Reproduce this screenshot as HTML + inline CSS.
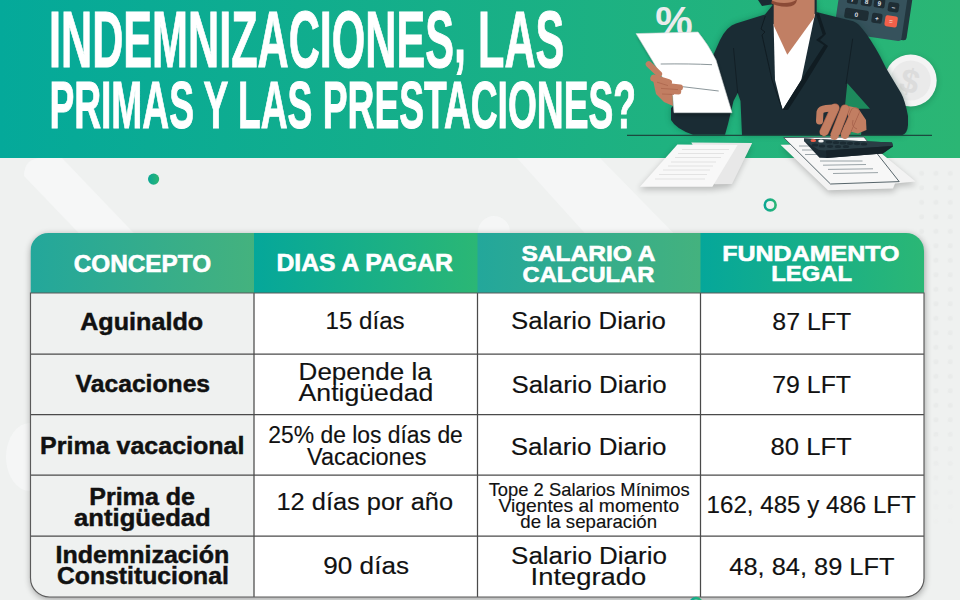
<!DOCTYPE html>
<html><head><meta charset="utf-8"><style>
html,body{margin:0;padding:0;background:#eff1f0;}
body{width:960px;height:600px;overflow:hidden;position:relative;}
svg{position:absolute;left:0;top:0;display:block;}
text{font-family:"Liberation Sans",Arial,sans-serif;}
</style></head><body>
<svg width="960" height="600" viewBox="0 0 960 600">
<defs>
<linearGradient id="ban" x1="0" y1="0" x2="1" y2="0"><stop offset="0" stop-color="#04a99a"/><stop offset="1" stop-color="#2bb674"/></linearGradient>
<linearGradient id="dotg" x1="0" y1="0" x2="1" y2="0"><stop offset="0" stop-color="#0aa794"/><stop offset="1" stop-color="#2bb674"/></linearGradient>
<linearGradient id="gA0" gradientUnits="userSpaceOnUse" x1="30.5" y1="0" x2="254.0" y2="0"><stop offset="0" stop-color="#23a79b"/><stop offset="1" stop-color="#44b27e"/></linearGradient>
<linearGradient id="gB1" gradientUnits="userSpaceOnUse" x1="254.0" y1="0" x2="477.5" y2="0"><stop offset="0" stop-color="#05a79a"/><stop offset="1" stop-color="#2bb775"/></linearGradient>
<linearGradient id="gA2" gradientUnits="userSpaceOnUse" x1="477.5" y1="0" x2="700.5" y2="0"><stop offset="0" stop-color="#23a79b"/><stop offset="1" stop-color="#44b27e"/></linearGradient>
<linearGradient id="gB3" gradientUnits="userSpaceOnUse" x1="700.5" y1="0" x2="924.0" y2="0"><stop offset="0" stop-color="#05a79a"/><stop offset="1" stop-color="#2bb775"/></linearGradient>

<filter id="tsh" x="-5%" y="-5%" width="110%" height="115%"><feGaussianBlur stdDeviation="3.5"/></filter>
<filter id="soft" x="-20%" y="-20%" width="140%" height="140%"><feGaussianBlur stdDeviation="3"/></filter>
<filter id="soft2" x="-20%" y="-20%" width="140%" height="140%"><feGaussianBlur stdDeviation="1.5"/></filter>
<clipPath id="hclip"><path d="M30.5,293.0 L30.5,251.0 A18,18 0 0 1 48.5,233.0 L906.0,233.0 A18,18 0 0 1 924.0,251.0 L924.0,293.0 Z"/></clipPath>
<clipPath id="banclip"><rect x="0" y="0" width="960" height="158"/></clipPath>
<pattern id="dotpat" x="914.5" y="166" width="14.3" height="14.5" patternUnits="userSpaceOnUse"><circle cx="7.2" cy="7.3" r="2.5" fill="#e9ebea"/></pattern>
<linearGradient id="dotfade" gradientUnits="userSpaceOnUse" x1="0" y1="166" x2="0" y2="600"><stop offset="0" stop-color="#fff"/><stop offset="0.6" stop-color="#fff"/><stop offset="0.85" stop-color="#fff" stop-opacity="0"/></linearGradient>
<mask id="dotmask" maskUnits="userSpaceOnUse" x="900" y="160" width="60" height="440"><rect x="900" y="160" width="60" height="440" fill="url(#dotfade)"/></mask>
</defs>
<!-- background -->
<rect x="0" y="0" width="960" height="600" fill="#eff1f0"/>
<g fill="#f6f7f7">
<path d="M24,176 Q24,158 42,158 L62,158 L150,250 L95,250 Z" opacity="0.9"/>
<path d="M517,158 L600,158 L690,250 L600,250 Z" opacity="0.8"/>
<circle cx="494" cy="232" r="16" opacity="0.8"/>
<ellipse cx="30" cy="457" rx="24" ry="34" opacity="0.8"/>
</g>
<rect x="914" y="166" width="46" height="434" fill="url(#dotpat)" mask="url(#dotmask)"/>
<!-- banner -->
<rect x="0" y="0" width="960" height="158" fill="url(#ban)"/>
<!-- illustration -->
<g clip-path="url(#banclip)">
<!-- percent sign -->
<text x="655.3" y="36" font-size="42" font-weight="700" fill="#ebebeb" font-family="Liberation Sans, Arial, sans-serif" textLength="37.5" lengthAdjust="spacingAndGlyphs">%</text>
<!-- top calculator -->
<g transform="translate(901,41.5) rotate(8.5)">
<rect x="-3" y="-100" width="8" height="98.5" rx="3" fill="#22363e"/>
<rect x="-68" y="-100" width="68" height="100" rx="3" fill="#36525c"/>
<rect x="-60" y="-54" width="11" height="9" rx="2" fill="#1e2d34"/>
<rect x="-46" y="-54" width="11" height="9" rx="2" fill="#1e2d34"/>
<rect x="-33" y="-54" width="11" height="9" rx="2" fill="#1e2d34"/>
<rect x="-19" y="-53" width="11" height="9" rx="2" fill="#1e2d34"/>
<rect x="-59.5" y="-39.5" width="11" height="9.5" rx="2" fill="#1e2d34"/>
<rect x="-45.5" y="-39.5" width="11" height="9.5" rx="2" fill="#1e2d34"/>
<rect x="-32.5" y="-39.5" width="11" height="9.5" rx="2" fill="#1e2d34"/>
<rect x="-18" y="-37.5" width="11" height="9.5" rx="2" fill="#1e2d34"/>
<rect x="-60" y="-25.5" width="24" height="10.5" rx="2" fill="#1e2d34"/>
<rect x="-32.5" y="-24.5" width="10.5" height="10" rx="2" fill="#1e2d34"/>
<rect x="-19" y="-24" width="12.5" height="11" rx="2" fill="#f2604a"/>
<g font-family="Liberation Sans, Arial, sans-serif" font-size="6.5" font-weight="700" fill="#d9dfe1" text-anchor="middle">
<text x="-54" y="-32">7</text><text x="-40" y="-32">8</text><text x="-27" y="-32">9</text><text x="-12.5" y="-30">−</text>
<text x="-48" y="-17.5">0</text><text x="-27.2" y="-17">+</text><text x="-12.8" y="-16.2" fill="#f7c2b6">=</text>
</g>
</g>
<!-- coin -->
<circle cx="911" cy="82" r="26" fill="#000" opacity="0.18" filter="url(#soft)"/>
<circle cx="910.7" cy="80.5" r="26" fill="#f4f4f4"/>
<circle cx="910.7" cy="80.5" r="20" fill="#eaeaea"/>
<text x="910" y="93" font-size="34" font-weight="700" fill="#dcdcdc" text-anchor="middle" font-family="Liberation Sans, Arial, sans-serif" transform="rotate(15 910 80)">$</text>
<!-- suit shadow -->
<path d="M772.7,5 L765,14.5 L736,23.5 Q727,26 720,40 L712,58 L690,90 L671,108 L671,120 Q676,129 693,134.8 L725,134.8 L728,124 L733.5,101 L737.7,93 L740.5,101 L742,135.3 L902,135.3 Q907.5,133.5 908,125 L908,116 Q905,100 901,93 L886,68 L880,56 Q870,38 862.7,29.3 Q858,23 853.3,21.3 L821.3,13.3 L816.7,12 L816.7,0 L760,0 Z" fill="#0b3a2c" opacity="0.35" filter="url(#soft)"/>
<!-- suit -->
<path fill-rule="evenodd" d="M772.7,5 L765,14.5 L736,23.5 Q727,26 720,40 L712,58 L690,90 L671,108 L671,120 Q676,129 693,134.8 L725,134.8 L728,124 L733.5,101 L737.7,93 L740.5,101 L742,135.3 L902,135.3 Q907.5,133.5 908,125 L908,116 Q905,100 901,93 L886,68 L880,56 Q870,38 862.7,29.3 Q858,23 853.3,21.3 L821.3,13.3 L816.7,12 L816.7,0 L760,0 Z M847.3,83.3 L870,108.7 L844.7,108.7 Z M846,126 L862,126 L861,135.3 L846,135.3 Z" fill="#1a2c34"/>
<!-- shirt -->
<path d="M773.6,24 L815,14 L801.3,80 L782.5,110 L775,80 Z" fill="#ffffff"/>
<!-- lapel shading -->
<path d="M816,14 L822.7,34.7 L816,40 L824,45.3 L801.3,80 L782.5,110 L788,110 L806,82 L828,46 L820,40 L826,34 L819,13 Z" fill="#101c22"/>
<path d="M765.3,16 L761,29 L765,32 L762,35 L772,80 L782.5,110" fill="none" stroke="#101c22" stroke-width="1"/>
<path d="M733.5,48 L737.7,93" fill="none" stroke="#101c22" stroke-width="0.8"/>
<path d="M852.7,38.7 L846,84" fill="none" stroke="#101c22" stroke-width="0.8"/>
<!-- neck -->
<path d="M773.7,0 L773.7,25.5 L787.3,54.7 L814.6,17 L814.6,0 Z" fill="#c17f64"/>
<!-- chin -->
<path d="M769,0 L797,0 Q796,6.5 787,6.8 Q776,6.8 769,2 Z" fill="#8b4a36"/>
<path d="M771,0 L796,0 Q792,3 784,3 Q776,3 771,0 Z" fill="#c17f64"/>
<path d="M758,0 L772,0 L771,4.5 L762,6 Z" fill="#1b2a33"/>
<!-- left paper -->
<path d="M636,33.6 L698,32 Q708,44 716,60 L732,112.7 L674,112.7 L672.7,96 L660.5,74 Z" fill="#000" opacity="0.25" filter="url(#soft2)" transform="translate(1,3)"/>
<path d="M636,33.6 L698,32 Q708,44 716,60 L732,112.7 L674,112.7 L672.7,96 L660.5,74 Z" fill="#ffffff" stroke="#cfd3d4" stroke-width="0.6"/>
<path d="M660.7,64 Q690,63.6 712,64.7" stroke="#6d7b80" stroke-width="0.8" fill="none"/>
<path d="M682.7,86.7 L718.7,91" stroke="#6d7b80" stroke-width="0.8"/>
<!-- left hand -->
<path d="M653,80 L672,85 L673,106 L664,102 L656,94 Z" fill="#c27e62"/>
<g stroke="#c27e62" stroke-linecap="round" fill="none">
<path d="M648.8,64.2 L659,74" stroke-width="6.2"/>
<path d="M653.8,78.2 L668.5,82.6" stroke-width="7"/>
<path d="M658,85 L680,87.6" stroke-width="6"/>
<path d="M659,90.6 L678.5,91.8" stroke-width="5.5"/>
</g>
<g stroke="#a9634a" stroke-width="0.7" fill="none">
<path d="M657,82.2 L668,85.6"/><path d="M661,88.4 L678,89.6"/><path d="M662,94 L674,94.5"/>
</g>
<!-- right hand -->
<path d="M848,106 L858,108 L866,120 L866.5,130 L858,133.5 L848,131 Z" fill="#c27e62"/>
<g stroke-linecap="round" stroke-linejoin="round" fill="none">
<path d="M855,112 L845,135" stroke="#a5604a" stroke-width="9.2"/><path d="M855,112 L845,135" stroke="#c27e62" stroke-width="7.8"/>
<path d="M845,109 L834.5,136" stroke="#a5604a" stroke-width="9.2"/><path d="M845,109 L834.5,136" stroke="#c27e62" stroke-width="7.8"/>
<path d="M835,108 L824,132" stroke="#a5604a" stroke-width="9.2"/><path d="M835,108 L824,132" stroke="#c27e62" stroke-width="7.8"/>
<path d="M819.5,121 L820,112 Q821,109 826,108.5 L833,108" stroke="#c27e62" stroke-width="7"/>
</g>
<path d="M853,120 Q851,127 857,129" stroke="#a5604a" stroke-width="0.8" fill="none"/>
<!-- desk line -->
<path d="M627,135.3 L932,135.3" stroke="#1c4a3f" stroke-width="1.2"/>
</g>
<!-- desk items (overlap banner edge) -->
<!-- left papers -->
<path d="M677.4,144.5 L752.2,143 L732.1,183.9 L712.4,186.8 L639.9,186.8 Z" fill="#000" opacity="0.22" filter="url(#soft)" transform="translate(-1,3)"/>
<path d="M691.3,142.6 L752.2,143 L732.1,183.9 L714.6,184.3 Z" fill="#e8e8e8"/>
<path d="M677.4,144.5 L737.6,144.9 L712.4,186.8 L639.9,186.8 Z" fill="#f8f8f8"/>
<g stroke="#e0e0e0" stroke-width="0.9">
<path d="M682,149.5 L729,149.5"/><path d="M678,153.5 L724,153.5"/><path d="M675,157.5 L721,157.5"/><path d="M671,162 L716,162"/>
<path d="M668,166 L713,166"/><path d="M663,170 L710,170"/><path d="M659,174.5 L707,174.5"/><path d="M655,179 L705,179"/>
</g>
<!-- right papers -->
<path d="M780.5,144.8 L870,144 L915.6,181.6 L895,183.5 L893,188.6 L828,190.2 Z" fill="#000" opacity="0.22" filter="url(#soft)" transform="translate(1,3)"/>
<path d="M780.5,144.8 L870,144 L915.6,181.6 L895,183.5 L893,188.6 L828,190.2 Z" fill="#f3f3f3"/>
<path d="M783.6,137.5 L864,137 L899.2,181.6 L830.5,184 Z" fill="#f7f7f7" stroke="#44545a" stroke-width="0.9"/>
<g stroke="#8a9599" stroke-width="0.85">
<path d="M799,146 L812,146"/><path d="M802,150 L815,150"/><path d="M805,154.5 L818,154.5"/>
<path d="M820,161 L862.5,161"/><path d="M823,165.2 L866,164.5"/><path d="M828,169.4 L873,168.8"/><path d="M833,173.5 L878,172.6"/>
</g>
<!-- desk calculator -->
<path d="M804,138.6 L892,142.5 L893,146.4 L882.8,153.4 L826.6,158 L819.5,157.8 L804,141 Z" fill="#1b2a32"/>
<path d="M804,138.6 L892,142.5 L893,146 L826,150.5 L819,150 L804,141 Z" fill="#2a3d45"/>
<path d="M826,150.5 L893,146 L882.8,153.4 L826.6,158 Z" fill="#162229"/>
<g fill="#1b2a32">
<ellipse cx="829" cy="142" rx="3.2" ry="1.6"/><ellipse cx="836" cy="142.5" rx="3.2" ry="1.6"/><ellipse cx="843" cy="143" rx="3.2" ry="1.6"/><ellipse cx="850" cy="143.3" rx="3.2" ry="1.6"/><ellipse cx="857" cy="143.6" rx="3.2" ry="1.6"/><ellipse cx="864" cy="144" rx="3.2" ry="1.6"/>
<ellipse cx="815" cy="145" rx="3.2" ry="1.6"/><ellipse cx="822" cy="146" rx="3.2" ry="1.6"/><ellipse cx="830" cy="146.3" rx="3.2" ry="1.6"/><ellipse cx="838" cy="146.5" rx="3.2" ry="1.6"/><ellipse cx="846" cy="146.5" rx="3.2" ry="1.6"/>
</g>
<ellipse cx="813.3" cy="140.6" rx="2.8" ry="1.5" fill="#f2604a"/>
<ellipse cx="821" cy="141" rx="2.8" ry="1.5" fill="#f0f0f0"/>
<!-- right hand over calculator -->
<g stroke-linecap="round" fill="none" stroke="#c27e62" stroke-width="7.8">
<path d="M827,126 L824,132"/><path d="M837.5,128 L834.5,136"/><path d="M848,127 L845,135"/>
</g>

<!-- title -->
<g>
<text x="49.00" y="66.5" font-size="79.6" font-weight="700" fill="#fff" stroke="#fff" stroke-width="1.0" textLength="515.35" lengthAdjust="spacingAndGlyphs">INDEMNIZACIONES<tspan dy="-5">,</tspan><tspan dy="5"> </tspan>LAS</text>
<text x="49.40" y="127.9" font-size="67.2" font-weight="700" fill="#fff" stroke="#fff" stroke-width="1.0" textLength="586.59" lengthAdjust="spacingAndGlyphs">PRIMAS Y LAS PRESTACIONES?</text>
</g>
<!-- decorations -->
<circle cx="153.6" cy="179.1" r="5.6" fill="url(#dotg)"/>
<circle cx="770.2" cy="205" r="5.4" fill="none" stroke="url(#dotg)" stroke-width="2.6"/>
<!-- table shadow -->
<path d="M30.5,578.0 L30.5,251.0 A18,18 0 0 1 48.5,233.0 L906.0,233.0 A18,18 0 0 1 924.0,251.0 L924.0,578.0 A19,19 0 0 1 905.0,597.0 L49.5,597.0 A19,19 0 0 1 30.5,578.0 Z" fill="#000" opacity="0.36" filter="url(#tsh)" transform="translate(0.5,2)"/>
<!-- table -->
<g clip-path="url(#hclip)">
<rect x="30.5" y="233.0" width="224.0" height="60.0" fill="url(#gA0)"/>
<rect x="254.0" y="233.0" width="224.0" height="60.0" fill="url(#gB1)"/>
<rect x="477.5" y="233.0" width="223.5" height="60.0" fill="url(#gA2)"/>
<rect x="700.5" y="233.0" width="224.0" height="60.0" fill="url(#gB3)"/>

</g>
<path d="M30.5,293.0 L924.0,293.0 L924.0,578.0 A19,19 0 0 1 905.0,597.0 L49.5,597.0 A19,19 0 0 1 30.5,578.0 Z" fill="#fff"/>
<path d="M30.5,293.0 L254.0,293.0 L254.0,597.0 L49.5,597.0 A19,19 0 0 1 30.5,578.0 Z" fill="#eff1f0"/>
<g stroke="#4a4a4a" stroke-width="1.25">
<line x1="30.5" y1="354.0" x2="924.0" y2="354.0"/>
<line x1="30.5" y1="414.5" x2="924.0" y2="414.5"/>
<line x1="30.5" y1="475.2" x2="924.0" y2="475.2"/>
<line x1="30.5" y1="536.0" x2="924.0" y2="536.0"/>
<line x1="254.0" y1="293.0" x2="254.0" y2="597.0"/>
<line x1="477.5" y1="293.0" x2="477.5" y2="597.0"/>
<line x1="700.5" y1="293.0" x2="700.5" y2="597.0"/>

</g>
<path d="M30.5,293.0 L924.0,293.0 L924.0,578.0 A19,19 0 0 1 905.0,597.0 L49.5,597.0 A19,19 0 0 1 30.5,578.0 Z" fill="none" stroke="#5a5a5a" stroke-width="1.15"/>
<circle cx="696" cy="603.5" r="5.4" fill="none" stroke="url(#dotg)" stroke-width="2.6"/>
<g>
<text x="73.70" y="271.7" font-size="24" font-weight="700" fill="#fff" stroke="#fff" stroke-width="0.6" textLength="137.45" lengthAdjust="spacingAndGlyphs">CONCEPTO</text>
<text x="276.50" y="271.4" font-size="24" font-weight="700" fill="#fff" stroke="#fff" stroke-width="0.6" textLength="176.24" lengthAdjust="spacingAndGlyphs">DIAS A PAGAR</text>
<text x="521.50" y="260.7" font-size="22.6" font-weight="700" fill="#fff" stroke="#fff" stroke-width="0.6" textLength="133.96" lengthAdjust="spacingAndGlyphs">SALARIO A</text>
<text x="522.60" y="282" font-size="22.6" font-weight="700" fill="#fff" stroke="#fff" stroke-width="0.6" textLength="131.76" lengthAdjust="spacingAndGlyphs">CALCULAR</text>
<text x="722.20" y="260.6" font-size="22.6" font-weight="700" fill="#fff" stroke="#fff" stroke-width="0.6" textLength="177.35" lengthAdjust="spacingAndGlyphs">FUNDAMENTO</text>
<text x="771.20" y="281.2" font-size="22.6" font-weight="700" fill="#fff" stroke="#fff" stroke-width="0.6" textLength="80.78" lengthAdjust="spacingAndGlyphs">LEGAL</text>
<text x="80.20" y="329.5" font-size="23.3" font-weight="700" fill="#111" stroke="#111" stroke-width="0.45" textLength="122.93" lengthAdjust="spacingAndGlyphs">Aguinaldo</text>
<text x="325.60" y="329.3" font-size="23.3"  fill="#111" stroke="#111" stroke-width="0.15" textLength="79.03" lengthAdjust="spacingAndGlyphs">15 días</text>
<text x="511.10" y="329.4" font-size="23.3"  fill="#111" stroke="#111" stroke-width="0.15" textLength="154.77" lengthAdjust="spacingAndGlyphs">Salario Diario</text>
<text x="772.30" y="329.7" font-size="23.3"  fill="#111" stroke="#111" stroke-width="0.15" textLength="78.94" lengthAdjust="spacingAndGlyphs">87 LFT</text>
<text x="75.60" y="392.2" font-size="23.3" font-weight="700" fill="#111" stroke="#111" stroke-width="0.45" textLength="134.52" lengthAdjust="spacingAndGlyphs">Vacaciones</text>
<text x="298.60" y="380.1" font-size="23.3"  fill="#111" stroke="#111" stroke-width="0.15" textLength="133.07" lengthAdjust="spacingAndGlyphs">Depende la</text>
<text x="298.60" y="401.4" font-size="23.3"  fill="#111" stroke="#111" stroke-width="0.15" textLength="134.75" lengthAdjust="spacingAndGlyphs">Antigüedad</text>
<text x="511.40" y="392.5" font-size="23.3"  fill="#111" stroke="#111" stroke-width="0.15" textLength="155.25" lengthAdjust="spacingAndGlyphs">Salario Diario</text>
<text x="772.30" y="392.5" font-size="23.3"  fill="#111" stroke="#111" stroke-width="0.15" textLength="78.68" lengthAdjust="spacingAndGlyphs">79 LFT</text>
<text x="40.10" y="454" font-size="23.3" font-weight="700" fill="#111" stroke="#111" stroke-width="0.45" textLength="204.28" lengthAdjust="spacingAndGlyphs">Prima vacacional</text>
<text x="268.30" y="443" font-size="23.3"  fill="#111" stroke="#111" stroke-width="0.15" textLength="194.53" lengthAdjust="spacingAndGlyphs">25% de los días de</text>
<text x="307.00" y="465" font-size="23.3"  fill="#111" stroke="#111" stroke-width="0.15" textLength="119.41" lengthAdjust="spacingAndGlyphs">Vacaciones</text>
<text x="510.80" y="454.5" font-size="23.3"  fill="#111" stroke="#111" stroke-width="0.15" textLength="155.66" lengthAdjust="spacingAndGlyphs">Salario Diario</text>
<text x="770.60" y="454.5" font-size="23.3"  fill="#111" stroke="#111" stroke-width="0.15" textLength="81.17" lengthAdjust="spacingAndGlyphs">80 LFT</text>
<text x="89.20" y="505.2" font-size="23.3" font-weight="700" fill="#111" stroke="#111" stroke-width="0.45" textLength="105.85" lengthAdjust="spacingAndGlyphs">Prima de</text>
<text x="74.10" y="526" font-size="23.3" font-weight="700" fill="#111" stroke="#111" stroke-width="0.45" textLength="136.65" lengthAdjust="spacingAndGlyphs">antigüedad</text>
<text x="276.50" y="509.8" font-size="23.3"  fill="#111" stroke="#111" stroke-width="0.15" textLength="176.52" lengthAdjust="spacingAndGlyphs">12 días por año</text>
<text x="488.70" y="496.1" font-size="19"  fill="#111" stroke="#111" stroke-width="0.15" textLength="201.07" lengthAdjust="spacingAndGlyphs">Tope 2 Salarios Mínimos</text>
<text x="498.60" y="511.8" font-size="19"  fill="#111" stroke="#111" stroke-width="0.15" textLength="180.55" lengthAdjust="spacingAndGlyphs">Vigentes al momento</text>
<text x="520.30" y="527.8" font-size="19"  fill="#111" stroke="#111" stroke-width="0.15" textLength="136.72" lengthAdjust="spacingAndGlyphs">de la separación</text>
<text x="706.60" y="512.8" font-size="23.3"  fill="#111" stroke="#111" stroke-width="0.15" textLength="209.23" lengthAdjust="spacingAndGlyphs">162, 485 y 486 LFT</text>
<text x="55.50" y="563.25" font-size="23.3" font-weight="700" fill="#111" stroke="#111" stroke-width="0.45" textLength="173.74" lengthAdjust="spacingAndGlyphs">Indemnización</text>
<text x="57.00" y="583.6" font-size="23.3" font-weight="700" fill="#111" stroke="#111" stroke-width="0.45" textLength="171.84" lengthAdjust="spacingAndGlyphs">Constitucional</text>
<text x="323.30" y="574.1" font-size="23.3"  fill="#111" stroke="#111" stroke-width="0.15" textLength="85.68" lengthAdjust="spacingAndGlyphs">90 días</text>
<text x="511.10" y="563.5" font-size="23.3"  fill="#111" stroke="#111" stroke-width="0.15" textLength="155.77" lengthAdjust="spacingAndGlyphs">Salario Diario</text>
<text x="530.60" y="584.8" font-size="23.3"  fill="#111" stroke="#111" stroke-width="0.15" textLength="115.64" lengthAdjust="spacingAndGlyphs">Integrado</text>
<text x="729.30" y="574.6" font-size="23.3"  fill="#111" stroke="#111" stroke-width="0.15" textLength="165.16" lengthAdjust="spacingAndGlyphs">48, 84, 89 LFT</text>
</g>
</svg>
</body></html>
